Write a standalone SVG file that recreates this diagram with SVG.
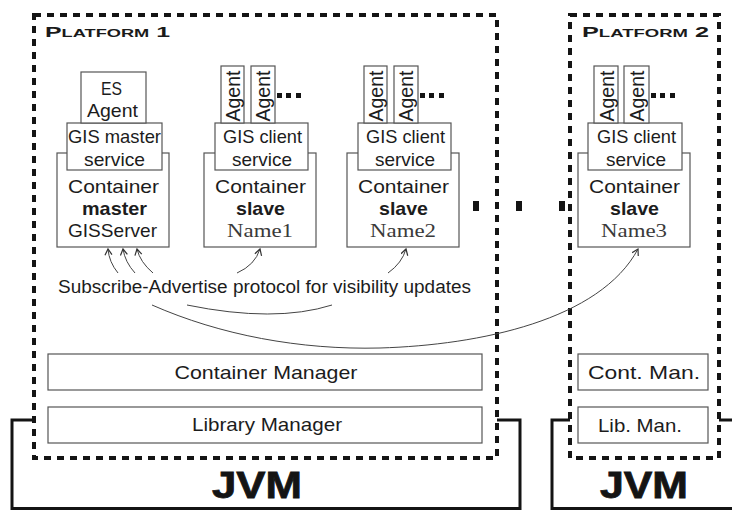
<svg xmlns="http://www.w3.org/2000/svg" width="732" height="511" viewBox="0 0 732 511">
  <defs>
    <style>
      .bg { fill: #ffffff; }
      .box { fill: #ffffff; stroke: #555555; stroke-width: 1.2; }
      .plat { fill: none; stroke: #141414; stroke-width: 4; stroke-dasharray: 7 6; }
      .jvm { fill: none; stroke: #141414; stroke-width: 3; }
      .t { font-family: "Liberation Sans", Arial, sans-serif; font-size: 19px; fill: #1c1c1c; text-anchor: middle; }
      .ag { font-size: 20px; }
      .b { font-weight: bold; }
      .serif { font-family: "Liberation Serif", "Times New Roman", serif; fill: #3a3a3a; }
      .ptitle { font-family: "Liberation Sans", Arial, sans-serif; font-size: 15px; font-weight: bold; font-variant: small-caps; fill: #1a1a1a; }
      .jvmt { font-family: "Liberation Sans", Arial, sans-serif; font-size: 36px; font-weight: bold; fill: #141414; stroke: #141414; stroke-width: 0.8; text-anchor: middle; }
      .dot { fill: #141414; }
      .link { fill: none; stroke: #444444; stroke-width: 1; }
    </style>
    <marker id="arrow" markerUnits="userSpaceOnUse" markerWidth="10" markerHeight="10" refX="7" refY="4" orient="auto">
      <path d="M1,0.5 L7,4 L1,7.5" fill="none" stroke="#333333" stroke-width="1.2"/>
    </marker>
  </defs>

  <rect class="bg" x="0" y="0" width="732" height="511"/>

  <!-- JVM outlines -->
  <g id="jvm1">
    <path class="jvm" d="M34,420 H12 V508.5 H520 V420 H497"/>
    <text class="jvmt" x="257" y="498" textLength="90" lengthAdjust="spacingAndGlyphs">JVM</text>
  </g>
  <g id="jvm2">
    <path class="jvm" d="M570,420 H552 V508.5 H734"/>
    <path class="jvm" d="M719,420 H734"/>
    <text class="jvmt" x="644" y="498" textLength="88" lengthAdjust="spacingAndGlyphs">JVM</text>
  </g>

  <!-- Platform boundaries -->
  <g id="platform1">
    <rect class="plat" x="34" y="15" width="463" height="443"/>
    <text class="ptitle" x="45" y="37" textLength="125" lengthAdjust="spacingAndGlyphs">Platform 1</text>
  </g>
  <g id="platform2">
    <rect class="plat" x="570" y="15" width="149" height="443"/>
    <text class="ptitle" x="582" y="37" textLength="127" lengthAdjust="spacingAndGlyphs">Platform 2</text>
  </g>

  <!-- Dots between the platforms -->
  <g id="more-platforms">
    <rect class="dot" x="473" y="201" width="6" height="10"/>
    <rect class="dot" x="516" y="201" width="6" height="10"/>
    <rect class="dot" x="559" y="201" width="6" height="10"/>
  </g>

  <!-- Master container -->
  <g id="master">
    <rect class="box" x="57" y="153" width="112" height="94"/>
    <rect class="box" x="67" y="123" width="95" height="47"/>
    <rect class="box" x="81" y="72" width="65" height="51"/>
    <text class="t" x="111.5" y="95" textLength="21" lengthAdjust="spacingAndGlyphs">ES</text>
    <text class="t" x="112.5" y="117" textLength="51" lengthAdjust="spacingAndGlyphs">Agent</text>
    <text class="t" x="114.5" y="143" textLength="93" lengthAdjust="spacingAndGlyphs">GIS master</text>
    <text class="t" x="114.5" y="166" textLength="61" lengthAdjust="spacingAndGlyphs">service</text>
    <text class="t" x="113.5" y="193" textLength="91" lengthAdjust="spacingAndGlyphs">Container</text>
    <text class="t b" x="114.5" y="215" textLength="65" lengthAdjust="spacingAndGlyphs">master</text>
    <text class="t" x="112.5" y="237" textLength="89" lengthAdjust="spacingAndGlyphs">GISServer</text>
  </g>

  <!-- Slave containers -->
  <g id="slave1">
    <rect class="box" x="204" y="153" width="112" height="94"/>
    <rect class="box" x="215" y="123" width="93" height="47"/>
    <rect class="box" x="221" y="66" width="23" height="57"/>
    <rect class="box" x="251" y="66" width="24" height="57"/>
    <text class="t ag" transform="translate(240,96) rotate(-90)" textLength="51" lengthAdjust="spacingAndGlyphs">Agent</text>
    <text class="t ag" transform="translate(270,96) rotate(-90)" textLength="51" lengthAdjust="spacingAndGlyphs">Agent</text>
    <rect class="dot" x="277" y="93" width="5" height="5"/>
    <rect class="dot" x="286" y="93" width="5" height="5"/>
    <rect class="dot" x="296" y="93" width="5" height="5"/>
    <text class="t" x="262.5" y="143" textLength="79" lengthAdjust="spacingAndGlyphs">GIS client</text>
    <text class="t" x="262" y="166" textLength="60" lengthAdjust="spacingAndGlyphs">service</text>
    <text class="t" x="260.5" y="193" textLength="91" lengthAdjust="spacingAndGlyphs">Container</text>
    <text class="t b" x="260.5" y="215" textLength="49" lengthAdjust="spacingAndGlyphs">slave</text>
    <text class="t serif" x="260" y="237" textLength="66" lengthAdjust="spacingAndGlyphs">Name1</text>
  </g>

  <g id="slave2" transform="translate(143,0)">
    <rect class="box" x="204" y="153" width="112" height="94"/>
    <rect class="box" x="215" y="123" width="93" height="47"/>
    <rect class="box" x="221" y="66" width="23" height="57"/>
    <rect class="box" x="251" y="66" width="24" height="57"/>
    <text class="t ag" transform="translate(240,96) rotate(-90)" textLength="51" lengthAdjust="spacingAndGlyphs">Agent</text>
    <text class="t ag" transform="translate(270,96) rotate(-90)" textLength="51" lengthAdjust="spacingAndGlyphs">Agent</text>
    <rect class="dot" x="277" y="93" width="5" height="5"/>
    <rect class="dot" x="286" y="93" width="5" height="5"/>
    <rect class="dot" x="296" y="93" width="5" height="5"/>
    <text class="t" x="262.5" y="143" textLength="79" lengthAdjust="spacingAndGlyphs">GIS client</text>
    <text class="t" x="262" y="166" textLength="60" lengthAdjust="spacingAndGlyphs">service</text>
    <text class="t" x="260.5" y="193" textLength="91" lengthAdjust="spacingAndGlyphs">Container</text>
    <text class="t b" x="260.5" y="215" textLength="49" lengthAdjust="spacingAndGlyphs">slave</text>
    <text class="t serif" x="260" y="237" textLength="66" lengthAdjust="spacingAndGlyphs">Name2</text>
  </g>

  <g id="slave3" transform="translate(374,0)">
    <rect class="box" x="204" y="153" width="112" height="94"/>
    <rect class="box" x="214" y="123" width="94" height="47"/>
    <rect class="box" x="220" y="66" width="24" height="57"/>
    <rect class="box" x="250" y="66" width="25" height="57"/>
    <text class="t ag" transform="translate(240,96) rotate(-90)" textLength="51" lengthAdjust="spacingAndGlyphs">Agent</text>
    <text class="t ag" transform="translate(270,96) rotate(-90)" textLength="51" lengthAdjust="spacingAndGlyphs">Agent</text>
    <rect class="dot" x="277" y="93" width="5" height="5"/>
    <rect class="dot" x="286" y="93" width="5" height="5"/>
    <rect class="dot" x="296" y="93" width="5" height="5"/>
    <text class="t" x="262.5" y="143" textLength="79" lengthAdjust="spacingAndGlyphs">GIS client</text>
    <text class="t" x="262" y="166" textLength="60" lengthAdjust="spacingAndGlyphs">service</text>
    <text class="t" x="260.5" y="193" textLength="91" lengthAdjust="spacingAndGlyphs">Container</text>
    <text class="t b" x="260.5" y="215" textLength="49" lengthAdjust="spacingAndGlyphs">slave</text>
    <text class="t serif" x="260" y="237" textLength="66" lengthAdjust="spacingAndGlyphs">Name3</text>
  </g>

  <!-- Managers -->
  <g id="container-manager">
    <rect class="box" x="48" y="354" width="434" height="36"/>
    <text class="t" x="266" y="379" textLength="183" lengthAdjust="spacingAndGlyphs">Container Manager</text>
  </g>
  <g id="library-manager">
    <rect class="box" x="48" y="407" width="434" height="36"/>
    <text class="t" x="267" y="431" textLength="150" lengthAdjust="spacingAndGlyphs">Library Manager</text>
  </g>
  <g id="cont-man">
    <rect class="box" x="578" y="354" width="130" height="36"/>
    <text class="t" x="644" y="379" textLength="112" lengthAdjust="spacingAndGlyphs">Cont. Man.</text>
  </g>
  <g id="lib-man">
    <rect class="box" x="578" y="407" width="130" height="36"/>
    <text class="t" x="640" y="432" textLength="84" lengthAdjust="spacingAndGlyphs">Lib. Man.</text>
  </g>

  <!-- Protocol label -->
  <g id="protocol">
    <text class="t" x="58" y="293" style="text-anchor:start;font-size:18px" textLength="413" lengthAdjust="spacingAndGlyphs">Subscribe-Advertise protocol for visibility updates</text>
  </g>

  <!-- Connectors -->
  <g id="connectors">
    <path class="link" d="M118,273 Q109,262 108,249" marker-end="url(#arrow)"/>
    <path class="link" d="M135,273 Q125,262 123,249" marker-end="url(#arrow)"/>
    <path class="link" d="M153,273 Q140,262 137,249" marker-end="url(#arrow)"/>
    <path class="link" d="M237,273 Q255,265 260,249" marker-end="url(#arrow)"/>
    <path class="link" d="M388,273 Q402,263 406,249" marker-end="url(#arrow)"/>
    <path class="link" d="M187,305 Q275,323 332,305"/>
    <path class="link" d="M152,305 C220,335 300,350 380,348 C480,345 600,320 638,249" marker-end="url(#arrow)"/>
  </g>
</svg>
